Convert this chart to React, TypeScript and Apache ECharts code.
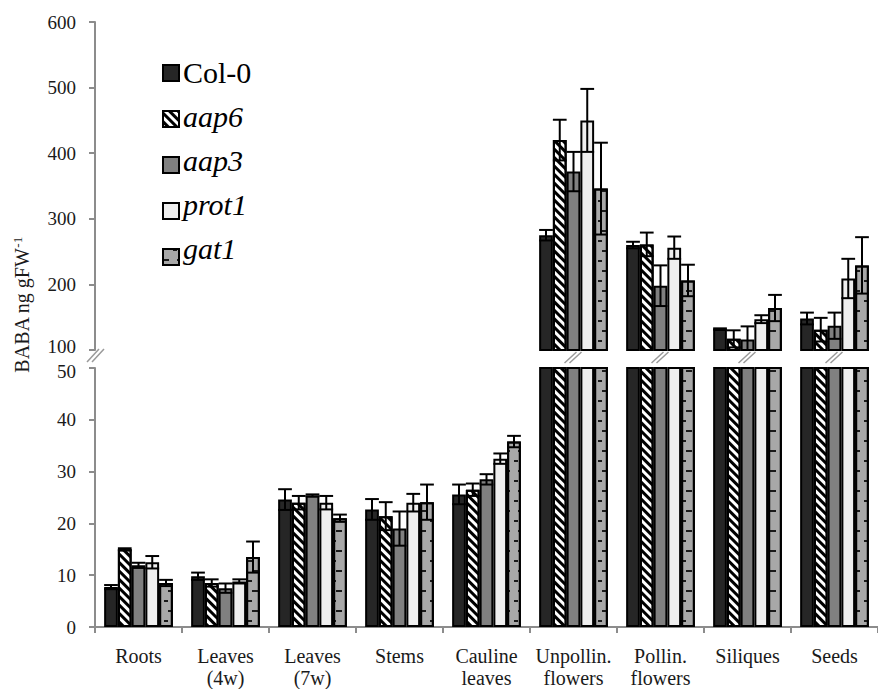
import React, { useEffect, useRef } from 'react';
import * as echarts from 'echarts';

const categories = ['Roots', 'Leaves\n(4w)', 'Leaves\n(7w)', 'Stems', 'Cauline\nleaves', 'Unpollin.\nflowers', 'Pollin.\nflowers', 'Siliques', 'Seeds'];
const genotypes = ['Col-0', 'aap6', 'aap3', 'prot1', 'gat1'];

const col0 = [7.7, 9.8, 24.6, 22.7, 25.6, 275, 260, 132, 148];
const col0Err = [0.4, 0.7, 2.0, 2.0, 1.9, 8, 5, 1, 9];
const aap6 = [15.0, 8.5, 24.0, 21.4, 26.5, 420, 261, 117, 131];
const aap6Err = [0.2, 0.7, 1.3, 2.7, 1.2, 31, 18, 13, 18];
const aap3 = [11.9, 7.5, 25.4, 19.0, 28.5, 372, 198, 116, 137];
const aap3Err = [0.5, 0.9, 0.2, 3.3, 1.0, 30, 31, 20, 20];
const prot1 = [12.5, 8.8, 24.0, 24.0, 32.5, 450, 256, 147, 209];
const prot1Err = [1.2, 0.4, 1.3, 1.7, 1.0, 48, 17, 6, 30];
const gat1 = [8.5, 13.5, 21.0, 24.1, 35.8, 346, 206, 164, 229];
const gat1Err = [0.6, 3.0, 0.7, 3.4, 1.1, 70, 24, 20, 43];

const lowerTicks = { min: 0, max: 50, interval: 10 };
const upperTicks = { min: 100, max: 600, interval: 100 };

const FONT = 'Liberation Serif';

export default function App() {
  const ref = useRef<HTMLDivElement>(null);
  useEffect(() => {
    const chart = echarts.init(ref.current!, null, { renderer: 'svg' });
    const values = [col0, aap6, aap3, prot1, gat1];
    const errs = [col0Err, aap6Err, aap3Err, prot1Err, gat1Err];

    const styles: any[] = [
      { color: '#262626' },
      {
        color: '#ffffff',
        decal: { symbol: 'rect', symbolSize: 1, dashArrayX: [1, 0], dashArrayY: [3, 3], rotation: Math.PI / 4, color: '#000000' },
      },
      { color: '#808080' },
      { color: '#efefef' },
      {
        color: '#a8a8a8',
        decal: { symbol: 'rect', symbolSize: 1, dashArrayX: [[6, 8], [0, 10, 4, 0]], dashArrayY: [2, 8], color: '#1a1a1a' },
      },
    ];

    const axisLine = { show: true, lineStyle: { color: '#8c8c8c', width: 2 } };
    const axisTick = { show: true, length: 6, lineStyle: { color: '#8c8c8c', width: 2 } };
    const labelBase = { fontFamily: FONT, fontSize: 19, color: '#1a1a1a' };
    const upperLabel = {
      ...labelBase, margin: 19,
      formatter: (v: number) => (v === upperTicks.min ? `{e|${v}}` : `${v}`),
      rich: { e: { ...labelBase, padding: [0, 0, 8, 0] } },
    };
    const lowerLabel = {
      ...labelBase, margin: 19,
      formatter: (v: number) => (v === lowerTicks.max ? `{e|${v}}` : `${v}`),
      rich: { e: { ...labelBase, padding: [6, 0, 0, 0] } },
    };

    const series: any[] = [];
    genotypes.forEach((g, si) => {
      const itemStyle = { ...styles[si], borderColor: '#000', borderWidth: 2 };
      series.push({
        name: g, type: 'bar', xAxisIndex: 1, yAxisIndex: 1, data: values[si],
        barGap: '0%', barCategoryGap: '21%', clip: true, itemStyle,
      });
      series.push({
        name: g, type: 'bar', xAxisIndex: 0, yAxisIndex: 0,
        data: values[si].map((v) => (v > upperTicks.min ? v : '-')),
        barGap: '0%', barCategoryGap: '21%', clip: true, itemStyle,
      });
    });

    const lowerErr: number[][] = [];
    const upperErr: number[][] = [];
    values.forEach((arr, si) => {
      arr.forEach((v, ci) => {
        if (v <= lowerTicks.max) lowerErr.push([ci, si, v, errs[si][ci]]);
        else if (v > upperTicks.min) upperErr.push([ci, si, v, errs[si][ci]]);
      });
    });

    const errRender = (params: any, api: any) => {
      const ci = api.value(0), si = api.value(1), v = api.value(2), e = api.value(3);
      const bandW = api.size([1, 0])[0];
      const bw = (bandW * 0.79) / 5;
      const c = api.coord([ci, v]);
      const x = c[0] + (si - 2) * bw;
      const yTop = api.coord([ci, v + e])[1];
      const yBotRaw = api.coord([ci, v - e])[1];
      const cs = params.coordSys;
      const bottom = cs.y + cs.height;
      const yBot = Math.min(yBotRaw, bottom);
      const half = bw / 2;
      const st = { stroke: '#000', lineWidth: 2 };
      const children: any[] = [
        { type: 'line', shape: { x1: x, y1: yTop, x2: x, y2: yBot }, style: st },
        { type: 'line', shape: { x1: x - half, y1: yTop, x2: x + half, y2: yTop }, style: st },
      ];
      if (yBotRaw <= bottom) children.push({ type: 'line', shape: { x1: x - half, y1: yBot, x2: x + half, y2: yBot }, style: st });
      return { type: 'group', children };
    };

    series.push({ type: 'custom', xAxisIndex: 1, yAxisIndex: 1, data: lowerErr, renderItem: errRender, encode: { x: 0, y: 2 }, z: 5, silent: true });
    series.push({ type: 'custom', xAxisIndex: 0, yAxisIndex: 0, data: upperErr, renderItem: errRender, encode: { x: 0, y: 2 }, z: 5, silent: true });

    const brokenCats = categories.map((_, i) => i).filter((i) => values.some((a) => a[i] > upperTicks.min));
    series.push({
      type: 'custom', xAxisIndex: 0, yAxisIndex: 0, clip: false, silent: true,
      data: brokenCats.map((i) => [i, upperTicks.min]),
      encode: { x: 0, y: 1 },
      renderItem: (params: any, api: any) => {
        const c = api.coord([api.value(0), api.value(1)]);
        const st = { stroke: '#9a9a9a', lineWidth: 1.5 };
        return {
          type: 'group',
          children: [
            { type: 'line', shape: { x1: c[0] - 9, y1: c[1] + 13, x2: c[0] + 3, y2: c[1] + 2 }, style: st },
            { type: 'line', shape: { x1: c[0] - 4, y1: c[1] + 13, x2: c[0] + 8, y2: c[1] + 2 }, style: st },
          ],
        };
      },
    });

    const legendTop = 64;
    const legendPitch = 44;
    const legendTexts = genotypes.map((g, i) => ({
      type: 'text',
      x: 183,
      y: legendTop + 8 + i * legendPitch,
      style: {
        text: g,
        fontFamily: FONT,
        fontSize: 30,
        fontStyle: g === 'Col-0' ? 'normal' : 'italic',
        fill: '#000',
        align: 'left',
        verticalAlign: 'middle',
      },
    }));

    chart.setOption({
      animation: false,
      backgroundColor: '#ffffff',
      textStyle: { fontFamily: FONT },
      grid: [
        { left: 95, right: -14, top: 22, height: 328 },
        { left: 95, right: -14, top: 368, height: 264 },
      ],
      legend: {
        data: genotypes,
        orient: 'vertical',
        left: 162,
        top: legendTop,
        padding: 0,
        icon: 'rect',
        itemWidth: 16,
        itemHeight: 16,
        itemGap: legendPitch - 16,
        selectedMode: false,
        formatter: () => '',
      },
      xAxis: [
        { gridIndex: 0, type: 'category', data: categories, show: false },
        {
          gridIndex: 1, type: 'category', data: categories,
          axisLine, axisTick,
          axisLabel: { fontFamily: FONT, fontSize: 20, color: '#1a1a1a', lineHeight: 22, margin: 18, interval: 0 },
        },
      ],
      yAxis: [
        {
          gridIndex: 0, type: 'value', ...upperTicks,
          axisLine, axisTick, splitLine: { show: false }, axisLabel: upperLabel,
        },
        {
          gridIndex: 1, type: 'value', ...lowerTicks,
          axisLine, axisTick, splitLine: { show: false }, axisLabel: lowerLabel,
        },
      ],
      graphic: [
        {
          type: 'text', x: 22, y: 305, rotation: Math.PI / 2,
          style: {
            text: '{a|BABA ng gFW}{s|-1}',
            align: 'center', verticalAlign: 'middle',
            rich: {
              a: { fontFamily: FONT, fontSize: 20, fill: '#1a1a1a', lineHeight: 22 },
              s: { fontFamily: FONT, fontSize: 13, fill: '#1a1a1a', verticalAlign: 'top', lineHeight: 22 },
            },
          },
        },
        ...legendTexts,
        { type: 'line', shape: { x1: 87, y1: 362, x2: 99, y2: 349 }, style: { stroke: '#9a9a9a', lineWidth: 1.5 } },
        { type: 'line', shape: { x1: 92, y1: 362, x2: 104, y2: 349 }, style: { stroke: '#9a9a9a', lineWidth: 1.5 } },
      ],
      series,
    });
    return () => chart.dispose();
  }, []);
  return <div ref={ref} style={{ position: 'absolute', left: 0, top: 0, width: 878, height: 689 }} />;
}
